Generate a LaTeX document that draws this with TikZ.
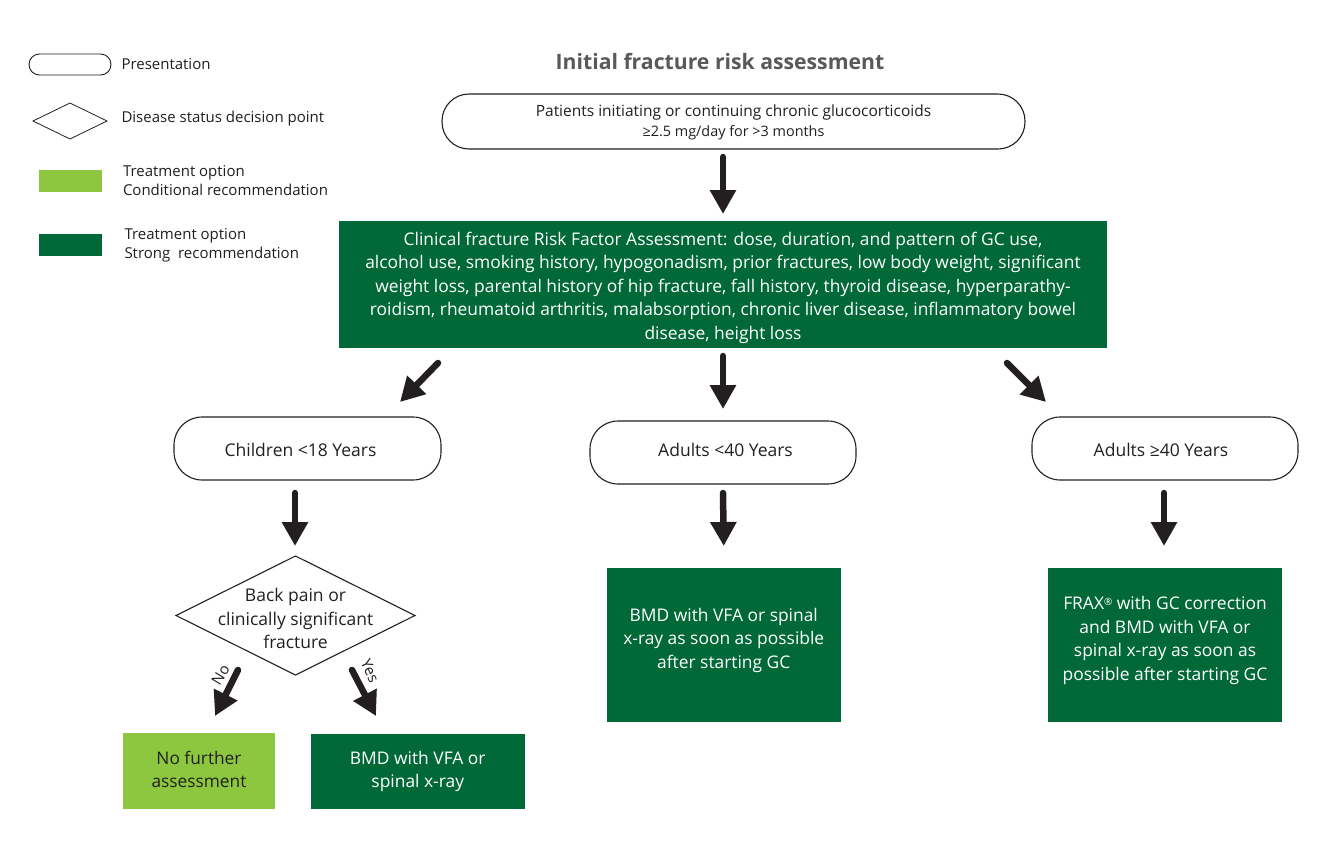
\documentclass[tikz,border=0pt]{standalone}
\usepackage{fontspec}
\setmainfont{Open Sans}
\usetikzlibrary{arrows.meta,shapes.geometric}
\definecolor{dkgreen}{HTML}{006937}
\definecolor{ltgreen}{HTML}{8DC63F}
\definecolor{ink}{HTML}{231F20}
\definecolor{titlegray}{HTML}{58595B}
\newcommand{\fs}[2]{\fontsize{#1}{#2}\selectfont}
\tikzset{
  x=1pt,y=-1pt,
  every node/.style={inner sep=0pt,outer sep=0pt,text=ink,align=center},
  pill/.style={draw=ink,line width=1.1pt,fill=white,rounded corners=#1,font=\fs{17.5}{23.5}},
  decision/.style={diamond,aspect=2,draw=ink,line width=1.1pt,fill=white},
  strong/.style={fill=dkgreen,text=white,font=\fs{17.4}{23.5}},
  cond/.style={fill=ltgreen,font=\fs{17.5}{23.5}},
  legendtext/.style={anchor=west,align=left,font=\fs{15}{19.5}},
  inbox/.style={align=center,text=white,font=\fs{17.4}{23.5}},
  inpill/.style={align=center,text=ink,font=\fs{17.5}{23.5}},
  flow/.style={draw=ink,fill=ink,line width=6.5pt,line cap=round,-{Triangle[length=24pt,width=25pt]}},
}
\begin{document}
\begin{tikzpicture}
\useasboundingbox (0,0) rectangle (1336,844);
\fill[white] (0,0) rectangle (1336,844);
% legend
\node[pill=10.5pt,line width=.9pt,minimum width=82pt,minimum height=21pt] (lgpill) at (70,64.5) {};
\node[decision,line width=.8pt,minimum width=74pt,minimum height=36pt] (lgdiam) at (70,121) {};
\node[cond,minimum width=63pt,minimum height=22.5pt] (lgcond) at (70,181) {};
\node[strong,minimum width=63pt,minimum height=22.5pt] (lgstrong) at (70,245) {};
\node[legendtext] (t1) at (121.5,64) {Presentation};
\node[legendtext] (t2) at (121.5,118.5) {Disease status decision point};
\node[legendtext] (t3) at (123,180.5) {Treatment option\\Conditional recommendation};
\node[legendtext] (t4) at (124.5,245.5) {Treatment option\\Strong\ \ recommendation};
% title
\node[font=\fs{21.2}{28}\bfseries,text=titlegray] (title) at (720,61) {Initial fracture risk assessment};
% main
\node[pill=27pt,minimum width=583pt,minimum height=55pt,
  label={[align=center,font=\fs{15.5}{20},text=ink,yshift=-1pt]center:Patients initiating or continuing chronic glucocorticoids\\{\fs{14.4}{20}≥2.5 mg/day for >3 months}}] (top) at (733.5,121.5) {};
\node[strong,minimum width=768pt,minimum height=127pt,
  label={[inbox,yshift=-3pt]center:Clinical fracture Risk Factor Assessment: dose, duration, and pattern of GC use,\\alcohol use, smoking history, hypogonadism, prior fractures, low body weight, significant\\weight loss, parental history of hip fracture, fall history, thyroid disease, hyperparathy-\\roidism, rheumatoid arthritis, malabsorption, chronic liver disease, inflammatory bowel\\disease, height loss}] (risk) at (723,284.5) {};
\node[pill=28pt,minimum width=267pt,minimum height=63pt,
  label={[inpill,xshift=-7pt,yshift=-1pt]center:Children <18 Years}] (child) at (307.5,448.5) {};
\node[pill=28pt,minimum width=266pt,minimum height=63pt,
  label={[inpill,xshift=2.5pt,yshift=3pt]center:Adults <40 Years}] (young) at (723,452.5) {};
\node[pill=28pt,minimum width=266pt,minimum height=63pt,
  label={[inpill,xshift=-4pt,yshift=-1pt]center:Adults ≥40 Years}] (old) at (1165,448.5) {};
\node[decision,minimum width=239pt,minimum height=119pt,
  label={[align=center,font=\fs{17.5}{23.5},yshift=-3pt]center:Back pain or\\clinically significant\\fracture}] (pain) at (295.5,615.5) {};
\node[strong,minimum width=234.5pt,minimum height=154pt,
  label={[inbox,yshift=5pt]center:BMD with VFA or spinal\\x-ray as soon as possible\\after starting GC}] (bmdmid) at (723.75,645) {};
\node[strong,minimum width=234pt,minimum height=154pt,
  label={[inbox,yshift=4.5pt]center:FRAX\raisebox{.45ex}{\fs{10}{10}®} with GC correction\\and BMD with VFA or\\spinal x-ray as soon as\\possible after starting GC}] (frax) at (1165,645) {};
\node[cond,minimum width=152pt,minimum height=75.5pt,
  label={[align=center,font=\fs{17.3}{23.2},text=ink,yshift=1pt]center:No further\\assessment}] (nofur) at (199,770.75) {};
\node[strong,minimum width=213.5pt,minimum height=74.5pt] (bmd) at (417.75,771.25) {BMD with VFA or\\spinal x-ray};
% connectors
\draw[flow] ([xshift=-10.5pt,yshift=-8pt]top.south) -- ([yshift=7pt]risk.north);
\draw[flow] ([xshift=-285pt,yshift=-15pt]risk.south) -- ([xshift=92.5pt,yshift=15pt]child.north);
\draw[flow] ([yshift=-8pt]risk.south) -- ([yshift=12pt]young.north);
\draw[flow] ([xshift=284pt,yshift=-15pt]risk.south) -- ([xshift=-119pt,yshift=15pt]old.north);
\draw[flow] ([xshift=-12.5pt,yshift=-13pt]child.south) -- ([xshift=-.5pt,yshift=10pt]pain.north);
\draw[flow] ([yshift=-9pt]young.south) -- ([yshift=22pt]bmdmid.north);
\draw[flow] ([xshift=-1pt,yshift=-13pt]old.south) -- ([xshift=-1pt,yshift=22pt]frax.north);
\draw[flow] ([xshift=-57.5pt,yshift=5pt]pain.south) -- ([xshift=16pt,yshift=17pt]nofur.north);
\draw[flow] ([xshift=56.5pt,yshift=5pt]pain.south) -- ([xshift=-41.75pt,yshift=18pt]bmd.north);
\node[font=\fs{15}{15},rotate=58] (nolab) at (220.5,675) {No};
\node[font=\fs{15}{15},rotate=-65] (yeslab) at (370,671) {Yes};
\end{tikzpicture}
\end{document}
